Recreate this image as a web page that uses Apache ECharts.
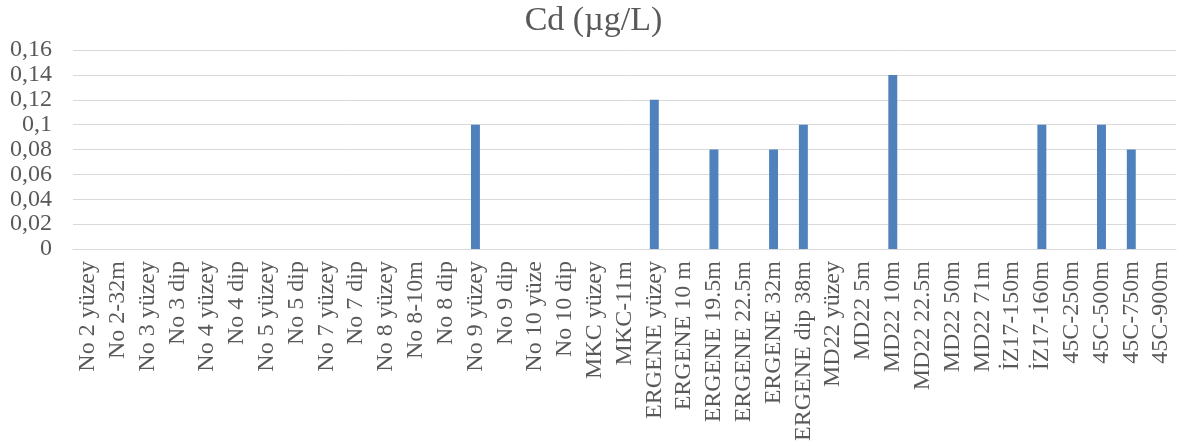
<!DOCTYPE html>
<html>
<head>
<meta charset="utf-8">
<script src="https://cdn.jsdelivr.net/npm/echarts@6/dist/echarts.min.js"></script>
<style>html,body{margin:0;padding:0;background:#fff;}#c{width:1187px;height:448px;}</style>
</head>
<body>
<div id="c"></div>
<script>
const categories = ["No 2 yüzey","No 2-32m","No 3 yüzey","No 3 dip","No 4 yüzey","No 4 dip","No 5 yüzey","No 5 dip","No 7 yüzey","No 7 dip","No 8 yüzey","No 8-10m","No 8 dip","No 9 yüzey","No 9 dip","No 10 yüze","No 10 dip","MKC yüzey","MKC-11m","ERGENE yüzey","ERGENE 10 m","ERGENE 19.5m","ERGENE 22.5m","ERGENE 32m","ERGENE dip 38m","MD22 yüzey","MD22 5m","MD22 10m","MD22 22.5m","MD22 50m","MD22 71m","İZ17-150m","İZ17-160m","45C-250m","45C-500m","45C-750m","45C-900m"];
const cdValues = [null,null,null,null,null,null,null,null,null,null,null,null,null,0.1,null,null,null,null,null,0.12,null,0.08,null,0.08,0.1,null,null,0.14,null,null,null,null,0.1,null,0.1,0.08,null];
const titleText = "Cd (µg/L)";

const chart = echarts.init(document.getElementById('c'));
const font = "'Liberation Serif', 'Times New Roman', serif";
chart.setOption({
  animation: false,
  title: { text: titleText, left: 'center', top: -1, textStyle: { fontFamily: font, fontSize: 34, fontWeight: 'normal', color: '#595959' } },
  grid: { left: 73, right: 11, top: 50, bottom: 199, containLabel: false },
  xAxis: {
    type: 'category', data: categories,
    axisTick: { show: false },
    axisLine: { lineStyle: { color: '#d9d9d9', width: 1 } },
    axisLabel: { rotate: 90, interval: 0, margin: 12, fontFamily: font, fontSize: 24, color: '#595959' }
  },
  yAxis: {
    type: 'value', min: 0, max: 0.16, interval: 0.02,
    axisLine: { show: false }, axisTick: { show: false },
    splitLine: { lineStyle: { color: '#d9d9d9', width: 1 } },
    axisLabel: { margin: 21, fontFamily: font, fontSize: 24, color: '#595959',
      formatter: v => String(Math.round(v*100)/100).replace('.', ',') }
  },
  series: [{ type: 'bar', data: cdValues, barWidth: '30%', itemStyle: { color: '#4f81bd' } }]
});
</script>
</body>
</html>
